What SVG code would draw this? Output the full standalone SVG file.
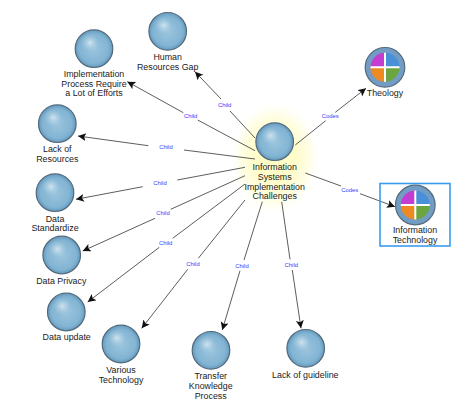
<svg xmlns="http://www.w3.org/2000/svg" width="474" height="406" viewBox="0 0 474 406">
<style>
text{font-family:"Liberation Sans",Arial,sans-serif;text-anchor:middle}
.t{font-size:8.85px;fill:#222}
.l{font-size:5.9px;fill:#3a3aff}
.s{fill:url(#sph);stroke:#526a7c;stroke-width:1.2}
.h{fill:url(#hi)}
.e{fill:none;stroke:#333;stroke-width:.8}
.a{fill:none;stroke:#333;stroke-width:.8;marker-end:url(#arr)}
</style>
<defs>
<radialGradient id="sph" cx=".5" cy=".5" r=".5">
<stop offset="0" stop-color="#9cc5de"/><stop offset=".78" stop-color="#82b4d3"/><stop offset="1" stop-color="#659abd"/>
</radialGradient>
<radialGradient id="hi" cx=".5" cy=".5" r=".5">
<stop offset="0" stop-color="#dceaf1" stop-opacity=".85"/><stop offset="1" stop-color="#b4d4e6" stop-opacity="0"/>
</radialGradient>
<radialGradient id="halo" cx=".5" cy=".5" r=".5">
<stop offset="0" stop-color="#fdfcc4"/><stop offset=".45" stop-color="#fefcca"/><stop offset=".75" stop-color="#fffee6"/><stop offset="1" stop-color="#ffffff" stop-opacity="0"/>
</radialGradient>
<marker id="arr" markerUnits="userSpaceOnUse" markerWidth="10" markerHeight="10" refX="8" refY="4" orient="auto">
<path d="M0,0L8,4L0,8L1.8,4Z" fill="#111"/>
</marker>
<g id="sphere"><circle class="s" r="18.8"/><ellipse class="h" cx="-4" cy="-6" rx="9" ry="8.5"/></g>
<g id="code">
<circle r="19.8" fill="#729cc4" stroke="#526a7c" stroke-width="1.2"/>
<path d="M0,0V-14.5A14.5,14.5 0 0 0 -14.5,0Z" fill="#c23dd0"/>
<path d="M0,0V-14.5A14.5,14.5 0 0 1 14.5,0Z" fill="#4a90d8"/>
<path d="M0,0V14.5A14.5,14.5 0 0 1 -14.5,0Z" fill="#ef8a22"/>
<path d="M0,0V14.5A14.5,14.5 0 0 0 14.5,0Z" fill="#6ba53f"/>
<path d="M0,-14.5V14.5M-14.5,0H14.5" stroke="#fff" stroke-width="2"/>
</g>
</defs>
<rect width="474" height="406" fill="#fff"/>
<ellipse cx="275" cy="158" rx="46" ry="58" fill="url(#halo)"/>
<g id="connectors">
<path class="e" d="M295.3,145L325.7,120.7"/><path class="a" d="M335.3,112.3L366,88.3"/>
<path class="e" d="M305.3,173L341,186"/><path class="a" d="M360,193.7L395,206.7"/>
<path class="e" d="M255,138L230,111"/><path class="a" d="M221,99L195,71.7"/>
<path class="e" d="M255,150.7L197.7,120"/><path class="a" d="M183.3,112.7L127.3,81.7"/>
<path class="e" d="M255,159L184,150"/><path class="a" d="M148.3,145.7L78,136"/>
<path class="e" d="M245,167.3L177.3,180"/><path class="a" d="M142.7,186.7L76,199.3"/>
<path class="e" d="M245,175.7L170.7,209.3"/><path class="a" d="M155,218.3L82.7,251"/>
<path class="e" d="M245,184L172.7,238.3"/><path class="a" d="M159.3,247.3L87.7,302"/>
<path class="e" d="M245,200L198.3,258.3"/><path class="a" d="M187.7,269.3L141.7,328.3"/>
<path class="e" d="M262.3,201.7L244,260"/><path class="a" d="M240,270.7L222.3,330"/>
<path class="e" d="M281.7,201.7L290,259.3"/><path class="a" d="M292.3,270L301,328.3"/>
<g class="labels">
<text class="l" x="330.3" y="118.4">Codes</text>
<text class="l" x="349.7" y="191.8">Codes</text>
<text class="l" x="224.7" y="106.8">Child</text>
<text class="l" x="190.7" y="117.8">Child</text>
<text class="l" x="166" y="149.1">Child</text>
<text class="l" x="160" y="185.1">Child</text>
<text class="l" x="163" y="215.4">Child</text>
<text class="l" x="165.7" y="245.1">Child</text>
<text class="l" x="193" y="266.1">Child</text>
<text class="l" x="242" y="267.8">Child</text>
<text class="l" x="291.3" y="266.8">Child</text>
</g>
</g>
<g id="center"><use href="#sphere" x="274.7" y="141.7"/>
<text class="t" x="274.7" y="170">Information</text><text class="t" x="274.7" y="179.8">Systems</text><text class="t" x="274.7" y="189.6">Implementation</text><text class="t" x="274.7" y="199.4">Challenges</text></g>
<g id="theology"><use href="#code" x="385" y="67.3"/><text class="t" x="385" y="95.5">Theology</text></g>
<g id="it"><rect x="380" y="183.5" width="70" height="62.5" fill="none" stroke="#3b9bf0" stroke-width="1.6"/><use href="#code" x="415.3" y="205"/>
<text class="t" x="415" y="233">Information</text><text class="t" x="415" y="242.6">Technology</text></g>
<g id="human"><use href="#sphere" x="167.7" y="31.3"/><text class="t" x="167.7" y="60">Human</text><text class="t" x="167.7" y="69.7">Resources Gap</text></g>
<g id="implementation"><use href="#sphere" x="94" y="48.7"/><text class="t" x="94" y="77">Implementation</text><text class="t" x="94" y="86.7">Process Require</text><text class="t" x="94" y="96.4">a Lot of Efforts</text></g>
<g id="resources"><use href="#sphere" x="57.3" y="123.7"/><text class="t" x="57.3" y="152">Lack of</text><text class="t" x="57.3" y="161.7">Resources</text></g>
<g id="standardize"><use href="#sphere" x="55" y="192.7"/><text class="t" x="55" y="221.5">Data</text><text class="t" x="55" y="231">Standardize</text></g>
<g id="privacy"><use href="#sphere" x="61.7" y="255"/><text class="t" x="61.3" y="284">Data Privacy</text></g>
<g id="update"><use href="#sphere" x="66.3" y="312"/><text class="t" x="66.7" y="340">Data update</text></g>
<g id="various"><use href="#sphere" x="121" y="344"/><text class="t" x="121" y="373">Various</text><text class="t" x="121" y="382.7">Technology</text></g>
<g id="transfer"><use href="#sphere" x="211" y="350.3"/><text class="t" x="210.7" y="379">Transfer</text><text class="t" x="210.7" y="388.8">Knowledge</text><text class="t" x="210.7" y="398.5">Process</text></g>
<g id="guideline"><use href="#sphere" x="305.7" y="348.3"/><text class="t" x="305.3" y="377.5">Lack of guideline</text></g>
</svg>
